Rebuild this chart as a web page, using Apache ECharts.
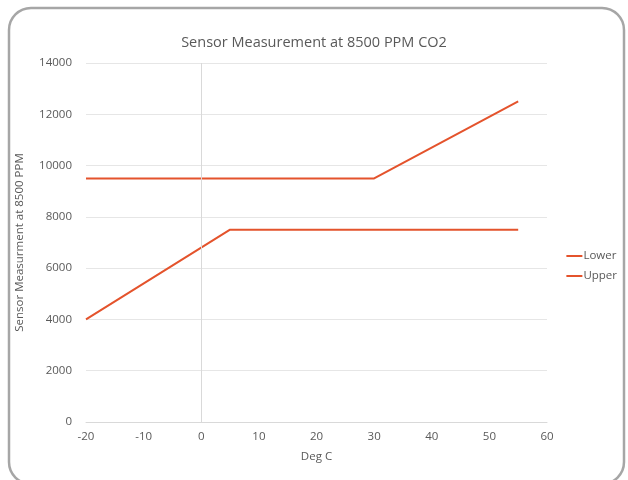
<!DOCTYPE html>
<html>
<head>
<meta charset="utf-8">
<script src="https://cdn.jsdelivr.net/npm/echarts@6/dist/echarts.min.js"></script>
<style>
html,body{margin:0;padding:0;background:#fff;}
#chart{width:628px;height:480px;}
</style>
</head>
<body>
<div id="chart"></div>
<script>
const titleText = 'Sensor Measurement at 8500 PPM CO2';
const xName = 'Deg C';
const yName = 'Sensor Measurment at 8500 PPM';
const lowerX = [-20, 5, 55];
const lowerY = [4000, 7500, 7500];
const upperX = [-20, 30, 55];
const upperY = [9500, 9500, 12500];
const seriesNames = ['Lower', 'Upper'];

const lineColor = '#E4532C';
const textColor = '#595959';

const chart = echarts.init(document.getElementById('chart'), null, {renderer: 'canvas'});
const zip = (xs, ys) => xs.map((x, i) => [x, ys[i]]);

chart.setOption({
  animation: false,
  backgroundColor: '#fff',
  graphic: [{
    type: 'rect',
    shape: {x: 9, y: 8, width: 615, height: 476, r: 22},
    style: {fill: 'none', stroke: '#a6a6a6', lineWidth: 2.5},
    z: -1
  }],
  title: {
    text: titleText,
    left: 'center',
    top: 30,
    textStyle: {fontFamily: 'Open Sans', fontSize: 14.5, fontWeight: 'normal', color: textColor}
  },
  legend: {
    orient: 'vertical',
    right: 6,
    top: 245,
    itemWidth: 16,
    itemHeight: 2,
    itemGap: 8,
    icon: 'rect',
    textStyle: {fontFamily: 'Open Sans', fontSize: 11.5, color: textColor, padding: [0, 0, 0, -4]},
    data: seriesNames
  },
  grid: {left: 86, right: 81, top: 63, bottom: 58},
  xAxis: {
    type: 'value',
    min: -20, max: 60, interval: 10,
    name: xName,
    nameLocation: 'middle',
    nameGap: 29,
    nameTextStyle: {fontFamily: 'Open Sans', fontSize: 11.5, color: textColor},
    axisLine: {show: true, lineStyle: {color: '#d9d9d9'}},
    axisTick: {show: false},
    splitLine: {show: false},
    axisLabel: {fontFamily: 'Open Sans', fontSize: 11.5, color: textColor, margin: 9}
  },
  yAxis: {
    type: 'value',
    min: 0, max: 14000, interval: 2000,
    name: yName,
    nameLocation: 'middle',
    nameGap: 60,
    nameTextStyle: {fontFamily: 'Open Sans', fontSize: 11.5, color: textColor},
    axisLine: {show: false},
    axisTick: {show: false},
    splitLine: {show: true, lineStyle: {color: '#e6e6e6'}},
    axisLabel: {fontFamily: 'Open Sans', fontSize: 11.5, color: textColor, margin: 14, formatter: v => String(v)}
  },
  series: [
    {
      name: seriesNames[0], type: 'line', data: zip(lowerX, lowerY),
      symbol: 'none', lineStyle: {color: lineColor, width: 2}, itemStyle: {color: lineColor},
      markLine: {
        silent: true, symbol: 'none', label: {show: false},
        lineStyle: {color: '#d9d9d9', type: 'solid', width: 1},
        data: [{xAxis: 0}]
      }
    },
    {
      name: seriesNames[1], type: 'line', data: zip(upperX, upperY),
      symbol: 'none', lineStyle: {color: lineColor, width: 2}, itemStyle: {color: lineColor}
    }
  ]
});
</script>
</body>
</html>
